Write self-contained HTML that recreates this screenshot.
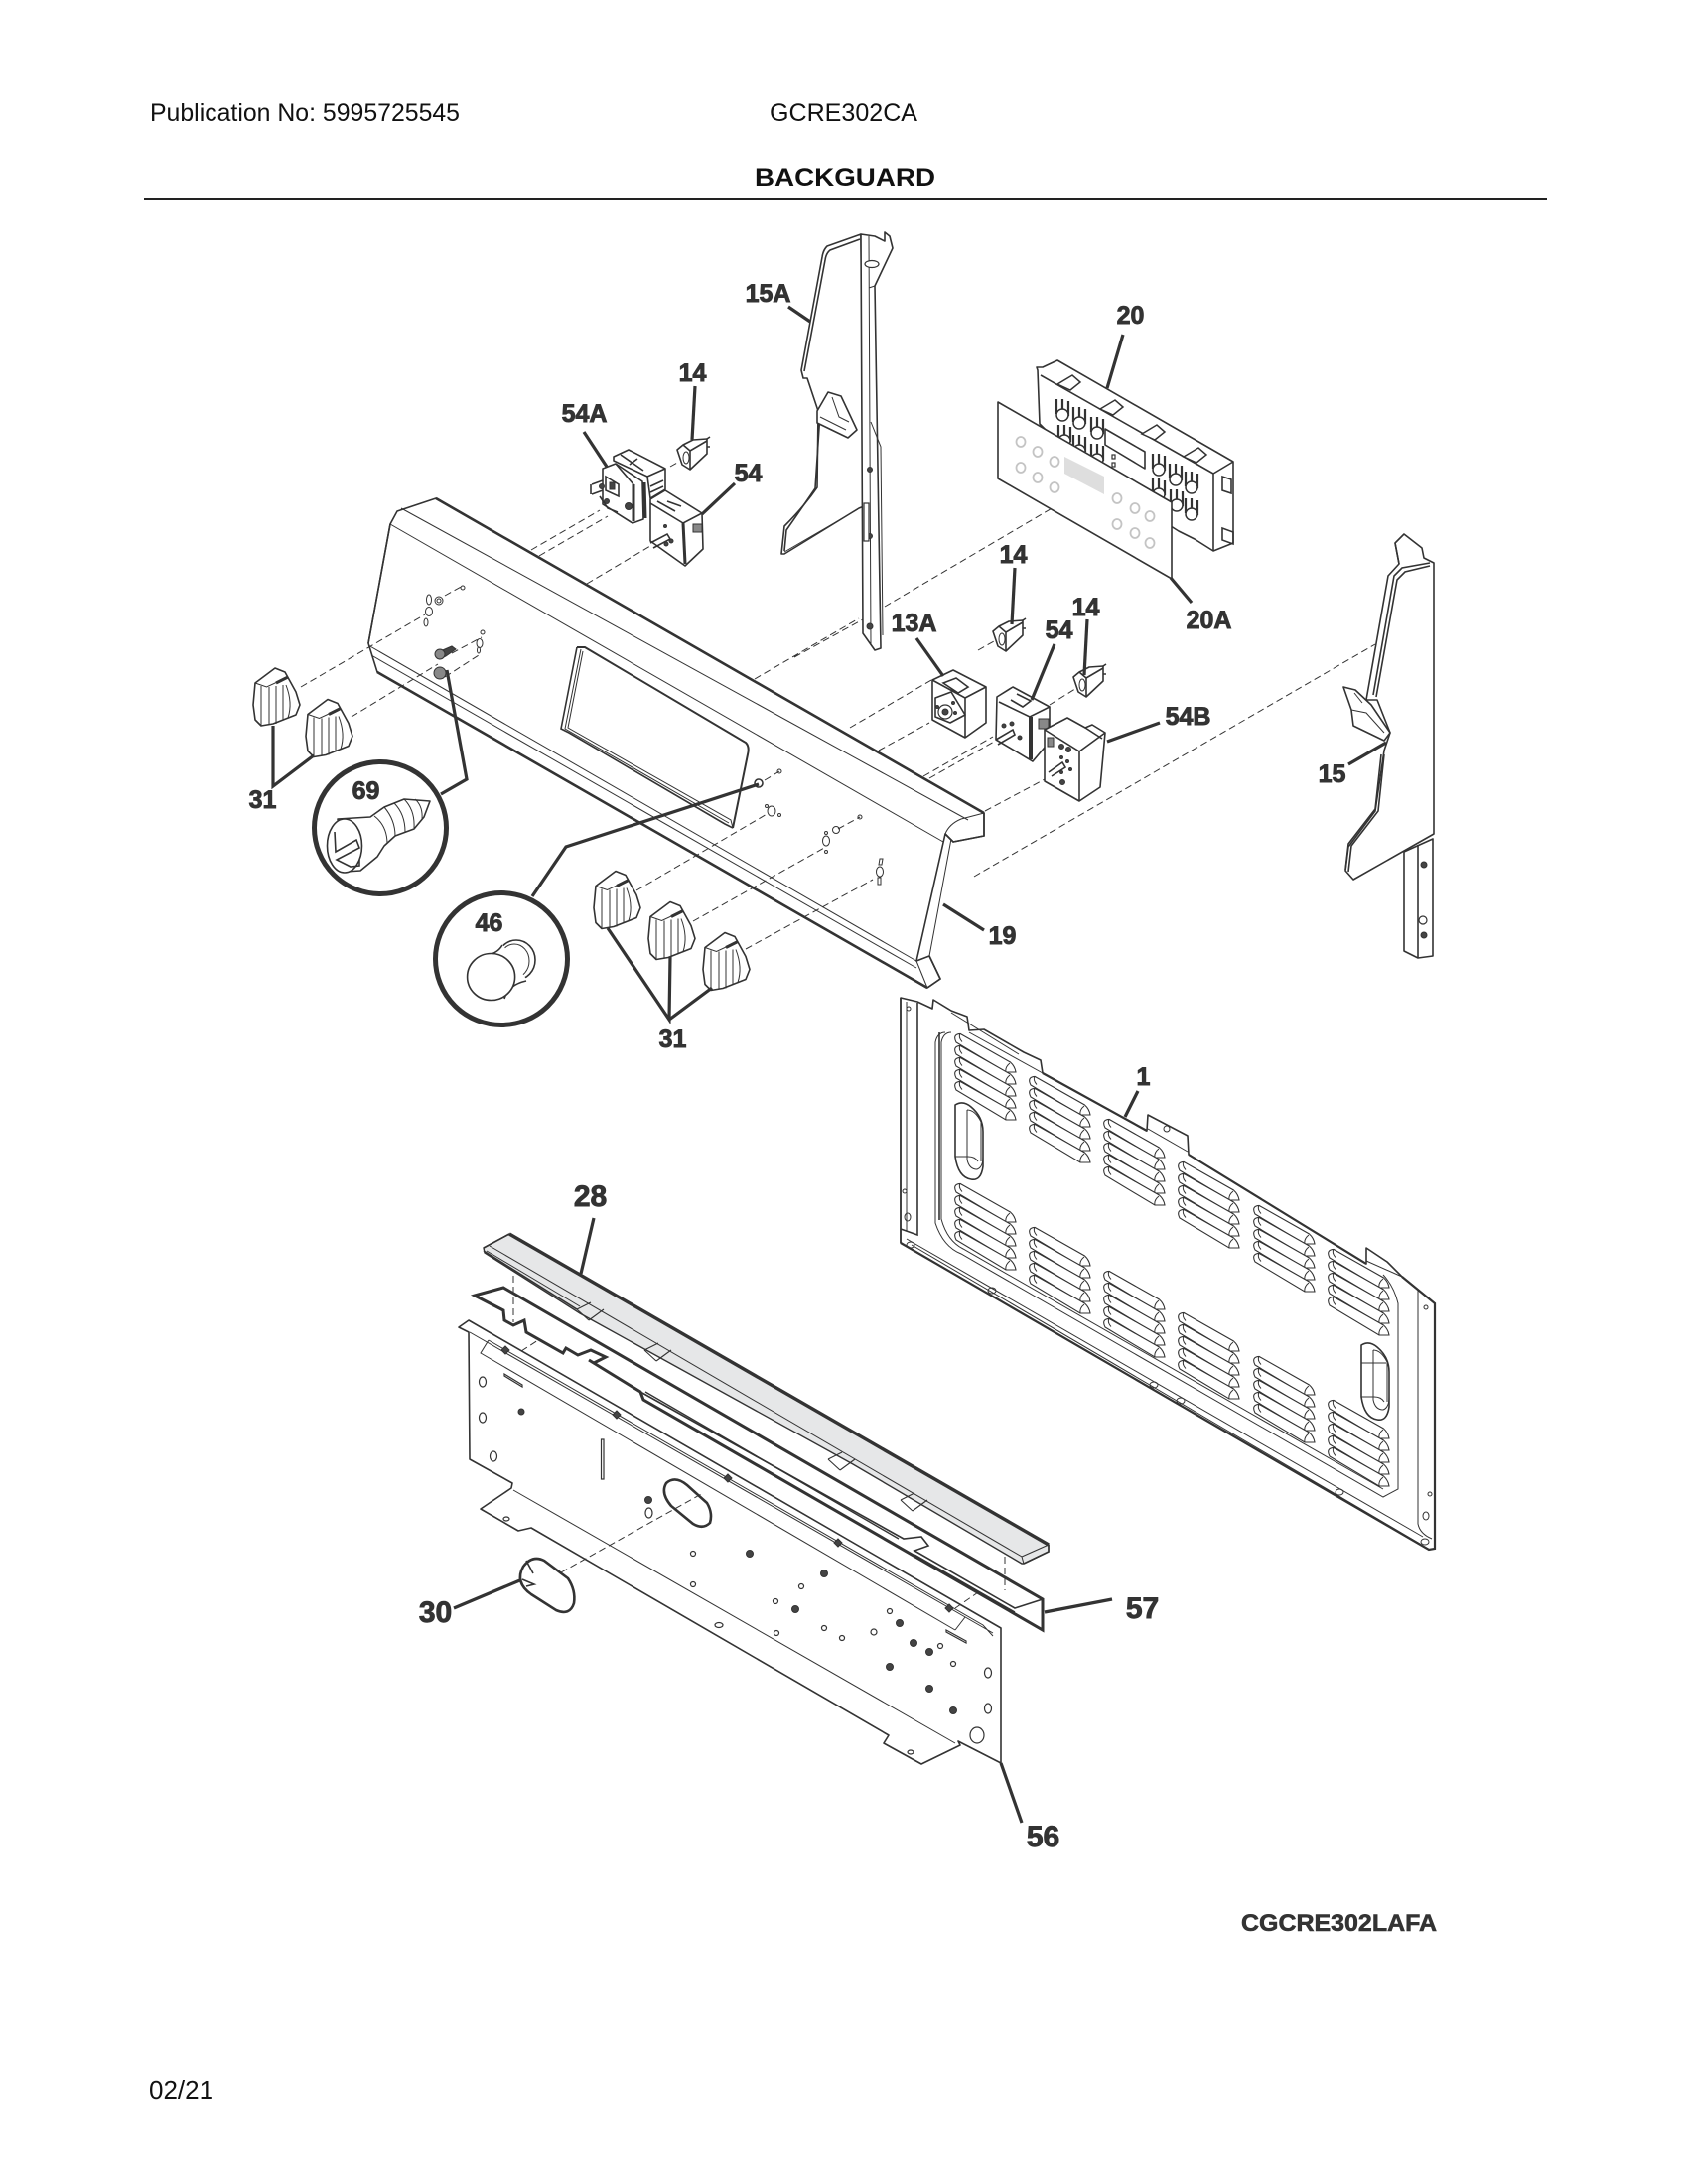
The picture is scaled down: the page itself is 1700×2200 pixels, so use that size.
<!DOCTYPE html>
<html><head><meta charset="utf-8"><style>
html,body{margin:0;padding:0;background:#fff}
svg{display:block}
.h{font-family:"Liberation Sans",sans-serif;font-size:25px;fill:#111}
.l{font-family:"Liberation Sans",sans-serif;font-weight:bold;font-size:25px;fill:#333;stroke:#333;stroke-width:.9;text-anchor:middle}
.p{fill:#fff;stroke:#333;stroke-width:1.6;stroke-linejoin:round}
.t{fill:none;stroke:#333;stroke-width:1}
.m{fill:none;stroke:#333;stroke-width:1.6}
.k{fill:none;stroke:#333;stroke-width:3}
.ld{fill:none;stroke:#333;stroke-width:3.2}
.d{fill:none;stroke:#333;stroke-width:1;stroke-dasharray:7 4}
.hl{fill:#fff;stroke:#333;stroke-width:1.2}
.dk{fill:#444;stroke:#333;stroke-width:1}
.g{fill:none;stroke:#c4c4c4;stroke-width:1.8}
</style></head><body>
<svg width="1700" height="2200" viewBox="0 0 1700 2200">
<defs>
<g id="lv"><path d="M1,-4.6L51.5,24Q56,28 57,34L47,34L-3,4Q-7,-4 1,-4.6Z" fill="#fff" stroke="#333" stroke-width="1.1"/><path d="M3,3.5Q-1,-1 1,-4.6M51,25Q46,29 47,34" class="t"/></g>
<g id="grp"><use href="#lv"/><use href="#lv" y="12"/><use href="#lv" y="24"/><use href="#lv" y="36"/><use href="#lv" y="48"/></g>
<g id="knob"><path d="M0,16L20,1L30,5L41,25L45,38L41,48L18,57L6,59L0,53L-2,38Z" class="p" stroke-width="1.8"/><path d="M0,16L11.500,20L33,10M6,19L6,59M14,20L14,57M21,19L21,57M28,18L28,53M31,18Q38,36 33,51" class="t"/><path d="M21,16L33,10" class="k"/></g>
<g id="sw"><path d="M-16,-5L-10,-10L0,-15L14,-16L14,-1L-3,15L-11,10Z" class="p"/><path d="M-10,-10L-3,-4L14,-14M-3,-4L-3,15M14,-8L17,-8M14,-16L17,-18" class="m"/><ellipse cx="-7" cy="3" rx="3" ry="6" class="t"/></g>
<g id="cn"><path d="M-6,-10L-6,5M0,-10L0,5M6,-8L6,7" fill="none" stroke="#333" stroke-width="2.200"/><circle r="6" cx="0" cy="6" fill="#fff" stroke="#333" stroke-width="1.500"/></g>
<path id="nt" d="M0,0L14,-7M12,11L27,0M0,0L12,11" fill="none" stroke="#333" stroke-width="1.100"/>
<path id="tb" d="M0,0L15,-9L23,-2L13,6Z" fill="#fff" stroke="#333" stroke-width="1.500"/>
</defs>

<text class="h" x="151" y="122" textLength="312" lengthAdjust="spacingAndGlyphs">Publication No: 5995725545</text>
<text class="h" x="775" y="122" textLength="149" lengthAdjust="spacingAndGlyphs">GCRE302CA</text>
<text x="760" y="187" font-family="Liberation Sans" font-weight="bold" font-size="25" fill="#111" textLength="182" lengthAdjust="spacingAndGlyphs">BACKGUARD</text>
<rect x="145" y="199" width="1413" height="2" fill="#222"/>
<text x="1250" y="1945" font-family="Liberation Sans" font-weight="bold" font-size="24" fill="#333" stroke="#333" stroke-width=".6" textLength="197" lengthAdjust="spacingAndGlyphs">CGCRE302LAFA</text>
<text class="h" x="150" y="2114" style="font-size:26px">02/21</text>

<!-- dashes behind -->
<path class="d" d="M891,611L1078,501M800,662L869,624M760,684L865,623M856,733L938,685M985,655L1001,646M885,756L936,728M936,784L1003,746M930,782L1000,742M1057,710L1086,692M992,817L1054,784M981,883L1385,649M535,554L604,514M543,560L612,520M591,588L655,550"/>

<!-- bracket 15A -->
<path class="p" d="M867,236L833,248Q829,252 828,259L807,373L809,381L813,381L824,414L823,491Q810,510 790,530L787,558L790,558L865,512L870,510L867,240Z"/>
<path class="m" d="M866,241L836,252Q832,255 831,262L810,374M826,416L821,492Q806,514 792,534L790,555"/>
<path class="p" d="M823,414L834,395L847,399L863,433L854,441L823,426Z"/>
<path class="t" d="M838,400L845,420L855,425M826,420L852,433M790,556L864,513"/>
<path class="p" d="M867,238L869,638L881,655L887,653L881,288L899,250L896,238L891,234L891,243L881,238L867,236Z"/>
<path class="t" d="M875,238L877,650M877,425L887,450L889,640M881,288L875,290"/>
<ellipse class="hl" cx="878" cy="266" rx="7" ry="3.5"/><circle class="dk" cx="876" cy="473" r="2.5"/><circle class="dk" cx="876" cy="540" r="2.5"/><circle class="dk" cx="876" cy="631" r="3"/><rect class="hl" x="870" y="507" width="5" height="38"/>

<!-- 14 a, 54A, 54 -->
<use href="#sw" x="698" y="458"/>
<path class="d" d="M675,470L684,465"/>
<path class="p" d="M618,460L633,453L670,472L670,493L655,502L652,480L618,464Z"/>
<path class="m" d="M652,480L670,472M655,490L668,484M655,496L668,490M625,458L648,474M634,468L642,462"/>
<path class="p" d="M607,472L620,467L647,485L648,523L637,527L607,508Z"/>
<path class="k" d="M638,488L638,525M649,486L650,522"/>
<path class="m" d="M620,467L638,488M610,480L623,488L623,500L610,494ZM596,488L607,484M596,498L607,494M595,488L595,498M604,500L612,512L622,516"/>
<rect class="dk" x="614" y="486" width="5" height="7"/><circle class="dk" cx="633" cy="510" r="3.500"/><circle class="dk" cx="606" cy="490" r="2.500"/><circle class="dk" cx="611" cy="505" r="2.500"/>
<path class="p" d="M655,503L670,494L707,517L708,553L690,570L655,545Z"/>
<path class="k" d="M688,527L690,568"/>
<path class="m" d="M655,507L688,527L707,517M662,505L680,515M672,505L686,510"/>
<path class="m" d="M655,547L672,538L675,543L658,552"/><rect x="698" y="528" width="9" height="8" class="dk" style="fill:#888"/>
<circle class="dk" cx="670" cy="530" r="1.500"/><circle class="dk" cx="676" cy="545" r="2"/><circle class="dk" cx="671" cy="548" r="2"/>

<!-- control 20 -->
<path class="p" d="M1045,373L1044,370L1050,370L1065,363L1242,465L1242,547L1222,555L1203,543L1187,535L1100,480L1047,427Z"/>
<path class="m" d="M1048,378L1222,477L1222,555M1222,477L1242,465"/>
<g><use href="#cn" x="1070" y="412"/><use href="#cn" x="1087" y="420"/><use href="#cn" x="1105" y="430"/><use href="#cn" x="1072" y="438"/><use href="#cn" x="1087" y="448"/><use href="#cn" x="1105" y="457"/><use href="#cn" x="1167" y="467"/><use href="#cn" x="1184" y="477"/><use href="#cn" x="1200" y="485"/><use href="#cn" x="1167" y="492"/><use href="#cn" x="1185" y="503"/><use href="#cn" x="1200" y="512"/></g>
<path class="p" d="M1113,432L1153,455L1153,472L1113,448Z"/>
<rect class="hl" x="1120" y="458" width="3" height="4"/><rect class="hl" x="1120" y="466" width="3" height="4"/>
<use href="#tb" x="1065" y="387"/><use href="#tb" x="1108" y="412"/><use href="#tb" x="1150" y="437"/><use href="#tb" x="1192" y="460"/>
<path class="m" d="M1231,480L1240,483L1240,497L1231,494ZM1231,532L1242,536L1242,548L1231,544Z"/>
<path class="p" d="M1005,405L1180,506L1180,583L1005,482Z" stroke-width="2"/>
<path d="M1072,460L1112,480L1112,498L1072,477Z" fill="#dedede"/>
<g class="g"><ellipse cx="1028" cy="445" rx="4.5" ry="5"/><ellipse cx="1045" cy="455" rx="4.5" ry="5"/><ellipse cx="1062" cy="465" rx="4.5" ry="5"/><ellipse cx="1028" cy="471" rx="4.5" ry="5"/><ellipse cx="1045" cy="481" rx="4.5" ry="5"/><ellipse cx="1062" cy="491" rx="4.5" ry="5"/><ellipse cx="1125" cy="502" rx="4.5" ry="5"/><ellipse cx="1143" cy="512" rx="4.5" ry="5"/><ellipse cx="1158" cy="520" rx="4.5" ry="5"/><ellipse cx="1125" cy="528" rx="4.5" ry="5"/><ellipse cx="1143" cy="537" rx="4.5" ry="5"/><ellipse cx="1158" cy="547" rx="4.5" ry="5"/></g>

<!-- switches right group -->
<use href="#sw" x="1016" y="641"/><use href="#sw" x="1097" y="687"/>
<path class="p" d="M939,685L960,675L993,692L993,728L972,743L939,725Z"/>
<path class="m" d="M939,685L972,703L972,743M972,703L993,692M950,688L963,683L975,692L965,698Z"/>
<path class="p" d="M942,703L958,697L972,720L957,728L942,722Z"/>
<circle class="hl" cx="952" cy="717" r="7"/><circle class="dk" cx="952" cy="717" r="3"/><circle class="dk" cx="944" cy="712" r="1.500"/><circle class="dk" cx="960" cy="708" r="1.500"/><circle class="dk" cx="962" cy="718" r="1.500"/>
<path class="p" d="M1004,702L1020,692L1057,712L1057,747L1040,767L1003,745Z"/>
<path class="m" d="M1006,707L1037,722L1057,712M1024,699L1038,706L1030,712L1018,705"/>
<path class="k" d="M1038,722L1038,765" style="stroke-width:4"/>
<path class="m" d="M1003,745L1020,735L1022,740L1005,750"/>
<rect x="1046" y="724" width="10" height="10" class="dk" style="fill:#888"/>
<circle class="dk" cx="1011" cy="731" r="2"/><circle class="dk" cx="1019" cy="729" r="2"/><circle class="dk" cx="1027" cy="743" r="2"/>
<path class="p" d="M1052,735L1075,723L1093,733L1100,730L1113,738L1108,793L1087,807L1052,787Z"/>
<path class="m" d="M1052,735L1087,757L1087,807M1087,757L1113,738M1093,733L1110,744"/>
<path class="m" d="M1056,778L1070,768L1073,773L1059,782"/><rect x="1055" y="743" width="6" height="9" class="dk" style="fill:#888"/>
<g class="dk"><circle cx="1069" cy="752" r="2.500"/><circle cx="1076" cy="755" r="2.500"/><circle cx="1069" cy="763" r="1.500"/><circle cx="1075" cy="767" r="1.500"/><circle cx="1078" cy="775" r="1.500"/><circle cx="1069" cy="778" r="1.500"/><circle cx="1070" cy="788" r="2.500"/></g>

<!-- bracket 15 -->
<path class="p" d="M1405,547L1414,538L1432,552L1434,562L1444,567L1444,840L1363,886L1355,877L1358,853L1385,817L1394,756L1400,738L1387,705L1376,705L1398,580L1409,568Z"/>
<path class="m" d="M1409,568L1405,547M1440,567L1412,572L1404,580L1383,700M1440,570L1415,576L1407,584L1386,702M1394,760L1388,817L1361,852L1358,878M1391,760L1385,815L1358,850L1355,876"/>
<path class="p" d="M1353,692L1365,695L1381,710L1400,738L1394,746L1363,731L1361,715Z"/>
<path class="t" d="M1361,715L1376,718L1394,738M1364,698L1372,708"/>
<path class="p" d="M1414,858L1443,845L1443,963L1428,965L1414,958Z"/>
<path class="m" d="M1428,851L1428,965"/><circle class="hl" cx="1433" cy="927" r="4"/><circle class="dk" cx="1434" cy="942" r="3"/><circle class="dk" cx="1434" cy="871" r="3"/>

<!-- panel 19 -->
<path class="p" d="M400,515L439,502L991,819L991,842L960,848L952,840L923,968L936,963L947,986L934,995L380,677L371,648L393,528Z" stroke-width="1.2"/>
<path d="M439,502L991,819M380,677L934,995" fill="none" stroke="#333" stroke-width="2.6"/>
<path class="m" d="M393,528L371,648M991,819L991,842L960,848L952,840M936,963L947,986L934,995"/>
<path class="t" d="M404,512L975,826M393,528L950,848M371,650L923,968M374,660L923,975M952,840L923,968M958,845L936,963M952,840Q956,830 968,825L991,819M923,968L934,995M923,968L936,963"/>
<path d="M581,652L589,652L751,748Q755,752 753,760L738,834" fill="none" stroke="#333" stroke-width="2"/>
<path class="m" d="M581,652L565,734L573,738L730,830L738,834"/>
<path class="t" d="M585,654L569,734L734,829M587,656L572,733L736,826L738,834"/>

<!-- dashes on panel -->
<path class="d" d="M303,692L428,619M354,722L441,669M448,600L466,590M455,658L485,642M448,682L482,660M770,786L785,777M641,897L774,819M698,928L832,853M844,835L866,823M751,956L879,886"/>
<g class="t"><ellipse cx="432" cy="604" rx="2.5" ry="5"/><circle cx="442" cy="605" r="4"/><circle cx="442" cy="605" r="2"/><circle cx="466" cy="592" r="2"/><ellipse cx="432" cy="616" rx="3.5" ry="4.5"/><ellipse cx="429" cy="627" rx="2" ry="4"/><ellipse cx="483" cy="648" rx="3" ry="4.5"/><circle cx="486" cy="637" r="2"/><ellipse cx="482" cy="655" rx="1.5" ry="3"/><circle cx="785" cy="777" r="2"/><ellipse cx="777" cy="817" rx="4" ry="5"/><circle cx="772" cy="812" r="1.5"/><circle cx="785" cy="821" r="1.5"/><circle cx="842" cy="836" r="3.5"/><ellipse cx="832" cy="847" rx="3.5" ry="5"/><circle cx="832" cy="858" r="1.5"/><circle cx="832" cy="839" r="1.5"/><circle cx="866" cy="823" r="2"/><ellipse cx="886" cy="878" rx="3.5" ry="5"/><path d="M886,865l3,0l-1,6l-3,0zM884,884l3,0l0,7l-3,0z"/></g>
<circle class="m" cx="764" cy="789" r="4"/>
<path d="M441,657l14,-6l4,3l-10,7l-6,3z" class="dk"/><circle cx="443" cy="659" r="5" class="dk" style="fill:#888"/>
<circle cx="443" cy="678" r="6" class="dk" style="fill:#888"/>

<!-- knobs -->
<use href="#knob" x="257" y="672"/><use href="#knob" x="310" y="703.500"/><use href="#knob" x="600" y="876.500"/><use href="#knob" x="655" y="907.500"/><use href="#knob" x="710" y="938.500"/>

<!-- callouts -->
<circle cx="383" cy="834" r="66.500" fill="#fff" stroke="#333" stroke-width="5"/>
<circle cx="505" cy="966" r="66.500" fill="#fff" stroke="#333" stroke-width="5"/>
<path class="p" d="M340,825L373,823L387,813L407,805L433,807L427,823L417,835L398,842L387,852L380,863L363,877L348,878Z"/>
<path class="t" d="M377,822Q390,832 390,850M387,813Q398,826 398,842M397,809Q408,820 408,838M407,805Q418,816 417,834M418,805Q426,812 425,825"/>
<ellipse class="p" cx="347" cy="852" rx="17.500" ry="27"/>
<path class="m" d="M337,838L338,858L359,846L362,854L339,866L353,873L362,872L362,866"/>

<ellipse class="p" cx="520" cy="967" rx="19" ry="20"/><ellipse class="t" cx="518" cy="968" rx="15" ry="17"/>
<path d="M487,962Q500,962 506,952L532,990Q514,992 508,1006Z" fill="#fff" stroke="#fff"/>
<path class="m" d="M487,962Q500,962 506,952M508,1006Q512,992 530,988"/>
<ellipse class="p" cx="494.600" cy="984" rx="24" ry="23.500"/>

<!-- leaders -->
<g class="ld">
<path d="M450,675L470,785L444,800"/><path d="M764,790L570,853L536,903"/>
<path d="M275,731L275,792L316,761"/><path d="M612,935L674,1027L675,964M674,1027L717,995"/>
<path d="M950,911L991,937"/><path d="M794,309L816,324"/><path d="M700,389L697,443"/><path d="M588,435L611,470"/><path d="M740,487L707,518"/>
<path d="M1131,337L1115,391"/><path d="M1200,607L1179,582"/><path d="M1022,572L1019,629"/><path d="M1095,624L1092,680"/><path d="M923,643L950,681"/><path d="M1062,649L1039,705"/><path d="M1168,728L1115,747"/><path d="M1358,770L1396,748"/>
<path d="M1146,1099L1133,1125"/><path d="M598,1227L585,1283"/><path d="M1052,1624L1120,1611"/><path d="M1008,1776L1029,1836"/><path d="M457,1620L526,1591"/>
</g>

<!-- panel 1 -->
<path class="p" d="M907,1005L924,1009L939,1016L940,1007L958,1018L974,1024L976,1038L991,1037L1031,1060L1048,1068L1050,1081L1155,1139L1156,1123L1196,1144L1197,1163L1376,1273L1376,1257L1397,1271L1412,1286L1445,1313L1445,1560L1439,1561L907,1252Z" stroke-width="1.4"/>
<path d="M1050,1081L1155,1139M1197,1163L1376,1273M1412,1286L1445,1313L1445,1560L1439,1561L907,1252" fill="none" stroke="#333" stroke-width="2.2"/>
<path class="m" d="M907,1005L907,1252M924,1010L924,1244L907,1238M946,1040L946,1229"/>
<path class="t" d="M913,1009L913,1240M952,1040Q944,1040 942,1050L942,1232Q950,1256 968,1263L1393,1508L1408,1500L1408,1313Q1404,1296 1393,1284M958,1040Q950,1040 948,1050L948,1228Q954,1250 970,1258L1393,1500M913,1248L1433,1548M918,1254L1430,1555M1428,1300L1428,1535Q1430,1545 1442,1550"/>
<g class="t"><circle cx="915" cy="1016" r="2"/><circle cx="911" cy="1200" r="2"/><ellipse cx="914" cy="1226" rx="3" ry="4"/><ellipse cx="917" cy="1254" rx="4" ry="3"/><ellipse cx="1436" cy="1317" rx="2" ry="2"/><ellipse cx="1440" cy="1505" rx="2" ry="2"/><ellipse cx="1436" cy="1527" rx="3" ry="4"/><ellipse cx="1435" cy="1553" rx="4" ry="3"/><ellipse cx="999" cy="1300" rx="4" ry="3"/><ellipse cx="1162" cy="1395" rx="4" ry="3"/><ellipse cx="1189" cy="1411" rx="4" ry="3"/><ellipse cx="1349" cy="1503" rx="4" ry="3"/><circle cx="1175" cy="1137" r="3"/></g>
<path class="t" d="M976,1040L1050,1081M958,1020L1026,1062M1156,1137L1196,1160M1376,1270L1412,1286"/>
<g>
<use href="#grp" x="966" y="1046"/><use href="#grp" x="1041" y="1089"/><use href="#grp" x="1116" y="1132"/><use href="#grp" x="1191" y="1175"/><use href="#grp" x="1267" y="1219"/><use href="#grp" x="1342" y="1263"/>
<use href="#grp" x="966" y="1197"/><use href="#grp" x="1041" y="1241"/><use href="#grp" x="1116" y="1285"/><use href="#grp" x="1191" y="1327"/><use href="#grp" x="1267" y="1371"/><use href="#grp" x="1342" y="1415"/>
</g>
<path class="p" d="M962,1113Q970,1108 978,1115Q990,1125 990,1140L990,1175Q988,1190 978,1188Q965,1186 962,1165Z" stroke-width="1.1"/>
<path class="t" d="M974,1118L974,1168Q976,1178 984,1178Q990,1176 990,1165M962,1165L975,1165Q982,1165 985,1170M974,1118Q982,1118 988,1130L988,1170"/>
<path class="p" d="M1371,1355Q1379,1350 1387,1357Q1399,1367 1399,1382L1399,1417Q1397,1432 1387,1430Q1374,1428 1371,1407Z" stroke-width="1.1"/>
<path class="t" d="M1383,1360L1383,1410Q1385,1420 1393,1420Q1399,1418 1399,1407M1371,1407L1384,1407Q1391,1407 1394,1412M1383,1360Q1391,1360 1397,1372L1397,1412M1371,1373L1396,1373"/>

<!-- panel 56 -->
<path class="p" d="M462,1337L472,1330L1008,1640L1008,1776L965,1754L967,1758L928,1777L890,1756L895,1748L535,1539L522,1542L484,1520L515,1499L516,1494L473,1470L472,1342Z" stroke-width="1.6"/>
<path class="t" d="M517,1501L962,1756M473,1342L1000,1645M492,1350L484,1363L962,1642M492,1350L990,1637L1000,1648M962,1642L972,1629"/>
<g class="dk"><path d="M509,1356l4,4l-4,4l-4,-4zM621,1421l4,4l-4,4l-4,-4zM733,1485l4,4l-4,4l-4,-4zM844,1550l4,4l-4,4l-4,-4zM956,1616l4,4l-4,4l-4,-4z"/>
<circle cx="653" cy="1511" r="3.500"/><circle cx="525" cy="1422" r="3"/><circle cx="755" cy="1565" r="3.500"/><circle cx="830" cy="1585" r="3.500"/><circle cx="801" cy="1621" r="3.500"/><circle cx="906" cy="1635" r="3.500"/><circle cx="920" cy="1655" r="3.500"/><circle cx="936" cy="1664" r="3.500"/><circle cx="896" cy="1679" r="3.500"/><circle cx="936" cy="1701" r="3.500"/><circle cx="960" cy="1723" r="3.500"/></g>
<g class="hl"><ellipse cx="486" cy="1392" rx="3.500" ry="5"/><ellipse cx="486" cy="1428" rx="3.500" ry="5"/><ellipse cx="497" cy="1467" rx="3.500" ry="5"/><ellipse cx="510" cy="1530" rx="3" ry="2"/><ellipse cx="653.500" cy="1524" rx="3.500" ry="5"/><circle cx="698" cy="1565" r="2.500"/><circle cx="698" cy="1596" r="2.500"/><circle cx="807" cy="1598" r="2.500"/><circle cx="781" cy="1613" r="2.500"/><circle cx="782" cy="1645" r="2.500"/><circle cx="830" cy="1640" r="2.500"/><circle cx="848" cy="1650" r="2.500"/><circle cx="880" cy="1644" r="3"/><circle cx="896" cy="1623" r="2.500"/><circle cx="947" cy="1658" r="2.500"/><circle cx="960" cy="1676" r="2.500"/><ellipse cx="724" cy="1637" rx="4" ry="2.500"/><ellipse cx="995" cy="1685" rx="3.500" ry="5"/><ellipse cx="995" cy="1721" rx="3.500" ry="5"/><ellipse cx="984" cy="1748" rx="7" ry="8"/><ellipse cx="917" cy="1765" rx="3" ry="2"/><path d="M508,1384L526,1395L526,1397L508,1386ZM953,1642L973,1653L973,1655L953,1644Z"/><rect x="605.500" y="1450" width="2.500" height="40"/></g>
<path d="M671,1494Q680,1486 692,1496L712,1514Q718,1524 715,1534Q708,1541 698,1535L676,1517Q665,1504 671,1494Z" fill="#fff" stroke="#333" stroke-width="2.600"/>

<!-- bar 57 -->
<path d="M478,1305L507,1297L1050,1611L1050,1642L645,1402L598,1373L610,1367L595,1360L582,1365L570,1358L567,1363L530,1342L528,1330L517,1335L508,1330L507,1320Z" fill="#fff" stroke="none"/>
<path d="M478,1305L507,1297L1050,1611L1050,1642L648,1410L645,1402L593,1370L598,1373L610,1367L595,1360L582,1365L570,1358L567,1363L530,1342L528,1330L517,1335L508,1330L507,1320L478,1305Z" fill="none" stroke="#333" stroke-width="3"/>
<path d="M645,1402L910,1550L928,1548L935,1557L921,1562L1022,1620L1050,1611" fill="none" stroke="#333" stroke-width="1.600"/>
<path d="M650,1402L905,1550M921,1566L1022,1624" fill="none" stroke="#333" stroke-width="1.400"/>

<!-- trim 28 -->
<path d="M487,1257L513,1243L1056,1556L1056,1563L1031,1575L1029,1575L859,1475L584,1323L488,1262Z" fill="#e6e7e8" stroke="#333" stroke-width="1.400"/>
<path d="M513,1243L1056,1556" fill="none" stroke="#333" stroke-width="3.400"/>
<path class="m" d="M487,1257L513,1243M1056,1556L1056,1563L1031,1575M487,1260L581,1319"/>
<path class="t" d="M493,1255L1029,1568L1031,1575M1029,1568L1056,1556M490,1260L584,1316"/>
<use href="#nt" x="581" y="1319"/><use href="#nt" x="649" y="1360"/><use href="#nt" x="834" y="1470"/><use href="#nt" x="907" y="1511"/>

<path class="d" d="M517,1285L517,1332M1012,1568L1012,1602M962,1620L988,1602M525,1361L542,1350M565,1584L708,1504"/>

<!-- gasket 30 -->
<path d="M527,1578Q536,1566 548,1572L572,1590Q580,1602 578,1615Q574,1628 560,1622L535,1606Q518,1594 527,1578Z" fill="#fff" stroke="#333" stroke-width="2.600"/>
<path class="m" d="M526,1591L538,1596L530,1598M530,1572L537,1585"/>

<!-- labels -->
<g transform="translate(-1.5,-3)">
<text class="l" x="775" y="307">15A</text>
<text class="l" x="699" y="387">14</text>
<text class="l" x="1140" y="329">20</text>
<text class="l" x="590" y="428">54A</text>
<text class="l" x="755" y="488">54</text>
<text class="l" x="1022" y="570">14</text>
<text class="l" x="1095" y="623">14</text>
<text class="l" x="922" y="639">13A</text>
<text class="l" x="1068" y="646">54</text>
<text class="l" x="1219" y="636">20A</text>
<text class="l" x="1198" y="733">54B</text>
<text class="l" x="1343" y="791">15</text>
<text class="l" x="266" y="817">31</text>
<text class="l" x="370" y="808">69</text>
<text class="l" x="494" y="941">46</text>
<text class="l" x="1011" y="954">19</text>
<text class="l" x="679" y="1058">31</text>
<text class="l" x="1153" y="1096">1</text>
<text class="l" x="596" y="1218" style="font-size:30px">28</text>
<text class="l" x="440" y="1637" style="font-size:30px">30</text>
<text class="l" x="1152" y="1633" style="font-size:30px">57</text>
<text class="l" x="1052" y="1863" style="font-size:30px">56</text>
</g>
</svg>
</body></html>
